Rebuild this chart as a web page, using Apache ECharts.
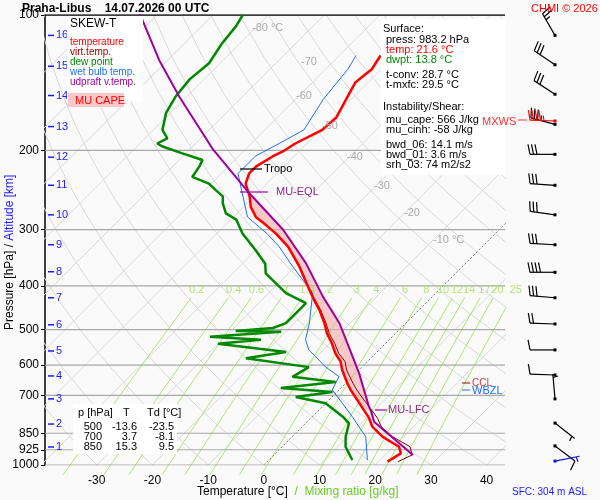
<!DOCTYPE html>
<html><head><meta charset="utf-8">
<script src="https://cdn.jsdelivr.net/npm/echarts@6/dist/echarts.min.js"></script>
<style>html,body{margin:0;background:#fff}#c{width:600px;height:500px}</style>
</head><body><div id="c"></div>
<script>
// tick labels
const pressTicks = [100, 200, 300, 400, 500, 600, 700, 850, 925, 1000];
const tempTicks = [-30, -20, -10, 0, 10, 20, 30, 40];
const kmLabels = [16, 15, 14, 13, 12, 11, 10, 9, 8, 7, 6, 5, 4, 3, 2, 1];
const kmPress = [111, 130, 151, 177, 207, 239, 278, 324, 372, 425, 488, 558, 634, 713, 811, 912];
const mixRatios = [0.2, 0.4, 0.6, 1, 1.4, 2, 3, 4, 6, 8, 10, 12, 14, 17, 20, 25];

// profiles [p hPa, T °C]
const temperature = [[983,21.6],[942,22.5],[911,21.0],[865,16.2],[822,12.6],[787,10.5],[755,8.1],[717,5.1],[681,2.1],[658,0.3],[615,-3.0],[589,-4.8],[565,-7.2],[537,-9.6],[510,-12.3],[484,-14.6],[452,-17.9],[430,-20.6],[408,-23.3],[362,-29.3],[327,-34.9],[306,-39.4],[293,-42.7],[281,-46.0],[267,-48.7],[253,-50.8],[237,-53.8],[225,-55.0],[217,-55.0],[206,-53.8],[201,-52.9],[193,-52.1],[185,-50.6],[180,-49.7],[169,-49.4],[154,-50.9],[141,-52.3],[132,-51.7],[123,-52.6]];
const virtTemp = [[983,23.5],[950,24.8],[911,23.0],[865,18.0],[822,14.2],[787,12.0],[755,9.5],[717,6.3],[681,3.2],[658,1.3],[615,-2.2],[589,-4.0],[565,-6.6],[537,-9.1],[510,-11.9],[484,-14.3],[452,-17.7],[430,-20.4],[408,-23.2],[362,-29.2],[327,-34.8],[306,-39.3]];
const dewPoint = [[975,15.0],[911,11.4],[865,9.6],[808,7.8],[781,5.5],[729,0.0],[706,-6.5],[688,-0.8],[674,-10.8],[654,-2.0],[637,-10.7],[606,-9.5],[579,-22.4],[561,-16.3],[538,-30.0],[527,-23.0],[519,-32.7],[506,-20.8],[504,-29.1],[496,-23.0],[484,-21.5],[468,-21.5],[437,-21.5],[415,-26.9],[388,-31.7],[375,-34.1],[357,-35.9],[333,-40.1],[306,-45.4],[285,-49.0],[276,-52.0],[262,-54.4],[253,-55.6],[245,-58.0],[237,-60.4],[229,-64.6],[217,-65.2],[210,-65.8],[203,-70.6],[196,-75.4],[193,-76.9],[188,-76.0],[180,-78.4],[165,-80.8],[152,-82.0],[139,-82.6],[128,-82.0],[116,-83.2],[106,-83.8],[100,-84.6]];
const wetBulb = [[975,17.7],[865,13.2],[822,10.2],[781,7.2],[729,3.0],[681,-1.2],[636,-2.4],[605,-6.6],[574,-10.2],[555,-12.6],[527,-15.0],[484,-17.3],[415,-22.1],[362,-30.5],[327,-36.5],[306,-41.0],[281,-47.5],[253,-52.0],[225,-57.0],[206,-57.0],[193,-55.0],[180,-53.0],[154,-55.0],[132,-56.0],[123,-57.0]];
const parcel = [[950,25.0],[942,24.3],[801,12.0],[758,9.5],[742,8.4],[625,0.6],[484,-11.9],[422,-19.7],[356,-28.7],[300,-38.8],[249,-51.4],[199,-65.8],[152,-81.3],[126,-91.5],[99,-103.5]];
const capeUpper = [[758,9.5],[742,8.4],[625,0.6],[484,-11.9],[422,-19.7],[356,-28.7],[300,-38.8],[249,-51.4]];
const capeLower = [[253,-50.8],[267,-48.7],[281,-46.0],[293,-42.7],[306,-39.4],[327,-34.9],[362,-29.3],[408,-23.3],[430,-20.6],[452,-17.9],[484,-14.6],[510,-12.3],[537,-9.6],[565,-7.2],[589,-4.8],[615,-3.0],[658,0.3],[681,2.1],[717,5.1],[758,8.8]];
// wind [p, dir deg, speed kt]
const windP = [111, 129, 150, 175, 204, 239, 278, 324, 373, 425, 486, 555, 631, 713, 807, 907, 980];
const windDir = [330, 304, 303, 285, 270, 274, 278, 273, 270, 275, 272, 270, 272, 355, 128, 127, 79];
const windSpd = [25, 30, 30, 35, 30, 30, 30, 30, 40, 30, 20, 10, 10, 5, 5, 10, 5];
const maxWind = [[172, 272, 45]];

const SKEW = 35.1;
const xy = (p, t) => [t + SKEW * Math.log(1000 / p), Math.log(p)];
const conv = arr => arr.map(d => xy(d[0], d[1]));
const XMIN = -39.3, XMAX = 43.3;

const series = [];
const thin = (data, color, w, extra) => series.push(Object.assign({
    type: 'line', data, showSymbol: false, silent: true, animation: false,
    lineStyle: {color, width: w}, z: 1
}, extra || {}));

// isotherms
for (let t = -130; t <= 40; t += 10) {
    thin([xy(1000, t), xy(100, t)], '#d8d8d8', 1, t === 0 ? {z: 2, lineStyle: {color: '#777', width: 1, type: [2, 2]}} : null);
}
// dry adiabats
const adiaP = [];
for (let p = 1050; p >= 100; p -= 25) adiaP.push(p);
for (let th = -40; th <= 200; th += 10) {
    thin(adiaP.map(p => xy(p, (th + 273.15) * Math.pow(p / 1000, 0.286) - 273.15)), '#d8d8d8', 1);
}
// mixing ratio lines
const mixP = [1050, 1000, 900, 800, 700, 600, 500, 425];
const tdOf = (w, p) => { const e = w * p / (622 + w), l = Math.log(e / 6.112); return 243.5 * l / (17.67 - l); };
mixRatios.forEach(w => thin(mixP.map(p => xy(p, tdOf(w, p))), '#a6ec6a', 1, {clip: false}));
series.push({
    type: 'scatter', symbolSize: 0, silent: true, animation: false, clip: false, z: 4,
    data: mixRatios.map(w => ({value: xy(409, tdOf(w, 409)), label: {formatter: String(w)}})),
    label: {show: true, position: 'inside', color: '#a6dd55', fontSize: 11, fontFamily: 'Liberation Sans'}
});
// isobars
pressTicks.forEach(p => thin([[XMIN, Math.log(p)], [XMAX, Math.log(p)]], p === 100 ? '#000' : '#a8a8a8', p === 100 ? 1.5 : 1.2, {z: 2}));

// CAPE area
series.push({
    type: 'custom', silent: true, animation: false, z: 3,
    data: [0],
    renderItem: (params, api) => ({
        type: 'polygon',
        shape: {points: conv(capeUpper).concat(conv(capeLower)).map(v => api.coord(v))},
        style: {fill: 'rgba(245,170,170,0.6)', stroke: 'none'}
    })
});
thin(conv(dewPoint), '#008800', 2.5, {z: 5});
thin(conv(wetBulb), '#2070f0', 1, {z: 5});
thin(conv(virtTemp), '#8b0000', 1, {z: 6});
thin(conv(temperature), '#ff0000', 2.5, {z: 7});
thin(conv(parcel), '#a000a0', 2, {z: 8});

// altitude km ticks
series.push({
    type: 'custom', silent: true, animation: false, z: 9, clip: false,
    data: kmPress.map((p, i) => [p, kmLabels[i]]),
    renderItem: (params, api) => {
        const y = api.coord([XMIN, Math.log(api.value(0))])[1];
        return {type: 'group', children: [
            {type: 'line', shape: {x1: 48, y1: y, x2: 54, y2: y}, style: {stroke: '#1a1aff', lineWidth: 1.5}},
            {type: 'text', style: {x: 56, y: y, text: String(api.value(1)), fill: '#1a1aff', font: '11px Liberation Sans', verticalAlign: 'middle'}}
        ]};
    }
});

// wind barbs
function barbSeries(data, color) {
    series.push({
        type: 'custom', silent: true, animation: false, clip: false, z: 9,
        data,
        renderItem: (params, api) => {
            const y = api.coord([0, Math.log(api.value(0))])[1], x = 555;
            const r = api.value(1) * Math.PI / 180, spd = api.value(2);
            const sx = Math.sin(r), sy = -Math.cos(r), L = 25;
            const ex = x + sx * L, ey = y + sy * L, px = -sy, py = sx;
            const ch = [
                {type: 'rect', shape: {x: x - 1.5, y: y - 1.5, width: 3, height: 3}, style: {fill: color}},
                {type: 'line', shape: {x1: x, y1: y, x2: ex, y2: ey}, style: {stroke: color, lineWidth: 1.2}}
            ];
            let n = Math.floor(spd / 10), i = 0;
            for (; i < n; i++) {
                const bx = ex - sx * 3.5 * i, by = ey - sy * 3.5 * i;
                ch.push({type: 'line', shape: {x1: bx, y1: by, x2: bx + px * 10 + sx * 2, y2: by + py * 10 + sy * 2}, style: {stroke: color, lineWidth: 1.2}});
            }
            if (spd % 10 >= 5) {
                const k = i ? i : 1;
                const bx = ex - sx * 3.5 * k, by = ey - sy * 3.5 * k;
                ch.push({type: 'line', shape: {x1: bx, y1: by, x2: bx + px * 5 + sx, y2: by + py * 5 + sy}, style: {stroke: color, lineWidth: 1.2}});
            }
            return {type: 'group', children: ch};
        }
    });
}
barbSeries(windP.slice(0, -1).map((p, i) => [p, windDir[i], windSpd[i]]), '#000');
barbSeries([[windP[16], windDir[16], windSpd[16]]], '#1010e0');
barbSeries(maxWind, '#ff0000');

const F = '11px Liberation Sans';
const txt = (x, y, text, fill, font) => ({type: 'text', x, y, z: 20, style: {text, fill: fill || '#000', font: font || F, verticalAlign: 'top'}});
const isoLabels = [['-80 °C', 252, 22], ['-70', 301, 56], ['-60', 296, 90], ['-50', 322, 120], ['-40', 347, 151], ['-30', 374, 180], ['-20', 404, 207], ['-10 °C', 433, 234]];

const chart = echarts.init(document.getElementById('c'));
chart.setOption({
    backgroundColor: '#fafafa',
    animation: false,
    grid: {left: 45, right: 95, top: 15, bottom: 35},
    xAxis: {
        type: 'value', min: XMIN, max: XMAX,
        axisLine: {show: false, onZero: false}, splitLine: {show: false},
        axisTick: {show: false},
        axisLabel: {customValues: tempTicks, color: '#000', fontSize: 12, fontFamily: 'Liberation Sans', margin: 10}
    },
    yAxis: {
        type: 'value', inverse: true, min: Math.log(100), max: Math.log(1000),
        axisLine: {show: true, onZero: false, lineStyle: {color: '#000', width: 1.5}}, splitLine: {show: false},
        axisTick: {show: true, customValues: pressTicks.map(Math.log), length: 4, lineStyle: {color: '#000'}},
        axisLabel: {customValues: pressTicks.map(Math.log), formatter: v => Math.round(Math.exp(v)), color: '#000', fontSize: 12, fontFamily: 'Liberation Sans', margin: 6}
    },
    series,
    graphic: [
        txt(22, 3, 'Praha-Libus    14.07.2026 00 UTC', '#000', 'bold 12px Liberation Sans'),
        txt(531, 3, 'CHMI © 2026', '#ff0000'),
        ...isoLabels.map(l => txt(l[1], l[2], l[0], '#aaa')),
        {type: 'rect', z: 15, shape: {x: 67, y: 16, width: 76, height: 85}, style: {fill: '#fff'}},
        txt(70, 18, 'SKEW-T', '#000', '12px Liberation Sans'),
        txt(70, 37, 'temperature', '#ff0000', '10px Liberation Sans'),
        txt(70, 47, 'virt.temp.', '#a00000', '10px Liberation Sans'),
        txt(70, 57, 'dew point', '#008800', '10px Liberation Sans'),
        txt(70, 67, 'wet bulb temp.', '#1e6fff', '10px Liberation Sans'),
        txt(70, 77, 'udpraft v.temp.', '#a000a0', '10px Liberation Sans'),
        {type: 'rect', z: 16, shape: {x: 68, y: 93, width: 56, height: 14}, style: {fill: '#f8c8c8'}},
        {type: 'text', x: 75, y: 95, z: 17, style: {text: 'MU CAPE', fill: '#ff0000', font: F, verticalAlign: 'top'}},
        {type: 'rect', z: 15, shape: {x: 381, y: 19, width: 125, height: 156}, style: {fill: '#fff'}},
        txt(383, 23, 'Surface:'),
        txt(386, 34, 'press: 983.2 hPa'),
        txt(386, 44, 'temp: 21.6 °C', '#ff0000'),
        txt(386, 54, 'dwpt: 13.8 °C', '#008800'),
        txt(386, 69, 't-conv: 28.7 °C'),
        txt(386, 79, 't-mxfc: 29.5 °C'),
        txt(383, 101, 'Instability/Shear:'),
        txt(386, 114, 'mu_cape: 566 J/kg'),
        txt(386, 124, 'mu_cinh: -58 J/kg'),
        txt(386, 139, 'bwd_06: 14.1 m/s'),
        txt(386, 149, 'bwd_01: 3.6 m/s'),
        txt(386, 159, 'srh_03: 74 m2/s2'),
        txt(482, 116, 'MXWS', '#ff3030'),
        {type: 'line', z: 20, shape: {x1: 518, y1: 120, x2: 527, y2: 120}, style: {stroke: '#ff3030'}},
        {type: 'line', z: 20, shape: {x1: 240, y1: 169, x2: 262, y2: 169}, style: {stroke: '#000', lineWidth: 1.2}},
        txt(264, 163, 'Tropo'),
        {type: 'line', z: 20, shape: {x1: 240, y1: 192, x2: 268, y2: 192}, style: {stroke: '#a000a0', lineWidth: 1.2}},
        txt(276, 186, 'MU-EQL', '#8b2a8b'),
        {type: 'line', z: 20, shape: {x1: 375, y1: 410, x2: 387, y2: 410}, style: {stroke: '#a000a0', lineWidth: 1.2}},
        txt(388, 404, 'MU-LFC', '#8b2a8b'),
        {type: 'line', z: 20, shape: {x1: 462, y1: 383, x2: 470, y2: 383}, style: {stroke: '#a00000'}},
        txt(472, 378, 'CCL', '#c04040', '10px Liberation Sans'),
        {type: 'line', z: 20, shape: {x1: 462, y1: 390, x2: 470, y2: 390}, style: {stroke: '#1e6fff'}},
        txt(472, 385, 'WBZL', '#1e6fff'),
        {type: 'rect', z: 15, shape: {x: 73, y: 404, width: 104, height: 50}, style: {fill: '#fff'}},
        txt(78, 407, 'p [hPa]'), txt(123, 407, 'T'), txt(147, 407, 'Td [°C]'),
        {type: 'text', x: 102, y: 422, z: 20, style: {text: '500\n700\n850', fill: '#000', font: F, align: 'right', verticalAlign: 'top', lineHeight: 10}},
        {type: 'text', x: 137, y: 422, z: 20, style: {text: '-13.6\n3.7\n15.3', fill: '#000', font: F, align: 'right', verticalAlign: 'top', lineHeight: 10}},
        {type: 'text', x: 174, y: 422, z: 20, style: {text: '-23.5\n-8.1\n9.5', fill: '#000', font: F, align: 'right', verticalAlign: 'top', lineHeight: 10}},
        {type: 'text', x: 4, y: 330, rotation: Math.PI / 2, z: 20, style: {
            text: '{a|Pressure [hPa]} {a|/} {b|Altitude [km]}', font: '12px Liberation Sans',
            rich: {a: {fill: '#000', fontSize: 12}, b: {fill: '#1a1aff', fontSize: 12}}}},
        {type: 'text', x: 197, y: 486, z: 20, style: {
            text: '{a|Temperature [°C]}  {b|/}  {b|Mixing ratio [g/kg]}', font: '12px Liberation Sans',
            rich: {a: {fill: '#000', fontSize: 12}, b: {fill: '#66cc22', fontSize: 12}}}},
        txt(512, 487, 'SFC: 304 m ASL', '#1a1aff', '10px Liberation Sans')
    ]
});
</script></body></html>
